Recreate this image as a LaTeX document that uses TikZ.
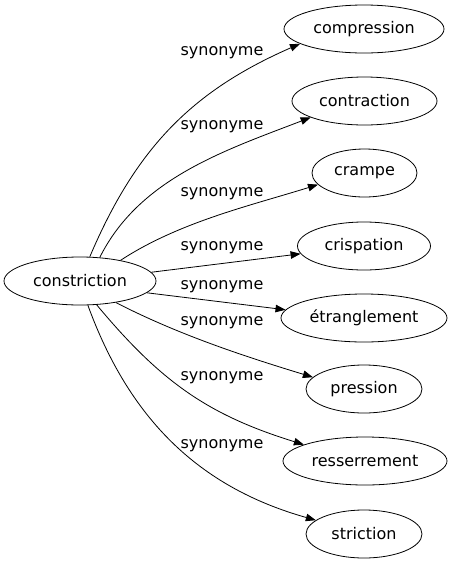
\documentclass[tikz,border=0pt]{standalone}
\usepackage{fontspec}
\setmainfont{DejaVu Sans}
\usetikzlibrary{shapes.geometric,arrows.meta}
\begin{document}
\begin{tikzpicture}[x=1pt,y=-1pt,
  every node/.style={font=\fontsize{16}{19}\selectfont},
  word/.style={ellipse,draw,line width=0.8pt,inner sep=0pt,minimum height=48pt},
  lbl/.style={inner sep=0pt},
  syn/.style={line width=0.8pt,-{Triangle[length=10pt,width=7.5pt]}}]
\useasboundingbox (0,0) rectangle (452,563);
\node[word,minimum width=152pt] (c) at (80,281) {constriction};
\node[word,minimum width=160pt] (n1) at (364,29) {compression};
\node[word,minimum width=145pt] (n2) at (364.5,101) {contraction};
\node[word,minimum width=105pt] (n3) at (364.5,173) {crampe};
\node[word,minimum width=133pt] (n4) at (364,246) {crispation};
\node[word,minimum width=166pt] (n5) at (364,318) {étranglement};
\node[word,minimum width=116pt] (n6) at (364,389) {pression};
\node[word,minimum width=164pt] (n7) at (365,461) {resserrement};
\node[word,minimum width=116pt] (n8) at (364,534) {striction};
\draw[syn] (c.68.6) .. controls (136,148) and (192,91) .. (n1.193.6);
\draw[syn] (c.50.7) .. controls (139,179) and (223,151) .. (n2.197.4);
\draw[syn] (c.27.7) .. controls (179,222) and (251,205.5) .. (n3.194.5);
\draw[syn] (c.7.1) -- (n4.187.8);
\draw[syn] (c.350.3) -- (n5.174.4);
\draw[syn] (c.329.3) .. controls (179,335) and (245,356.5) .. (n6.167);
\draw[syn] (c.305.3) .. controls (161,382) and (208,415) .. (n7.165.5);
\draw[syn] (c.288.4) .. controls (129,418) and (198,487) .. (n8.164.6);
\node[lbl] (l1) at (222,53) {synonyme};
\node[lbl] (l2) at (222,127) {synonyme};
\node[lbl] (l3) at (222,194) {synonyme};
\node[lbl] (l4) at (222,248) {synonyme};
\node[lbl] (l5) at (222,287) {synonyme};
\node[lbl] (l6) at (222,323) {synonyme};
\node[lbl] (l7) at (222,378) {synonyme};
\node[lbl] (l8) at (222,446) {synonyme};
\end{tikzpicture}
\end{document}
